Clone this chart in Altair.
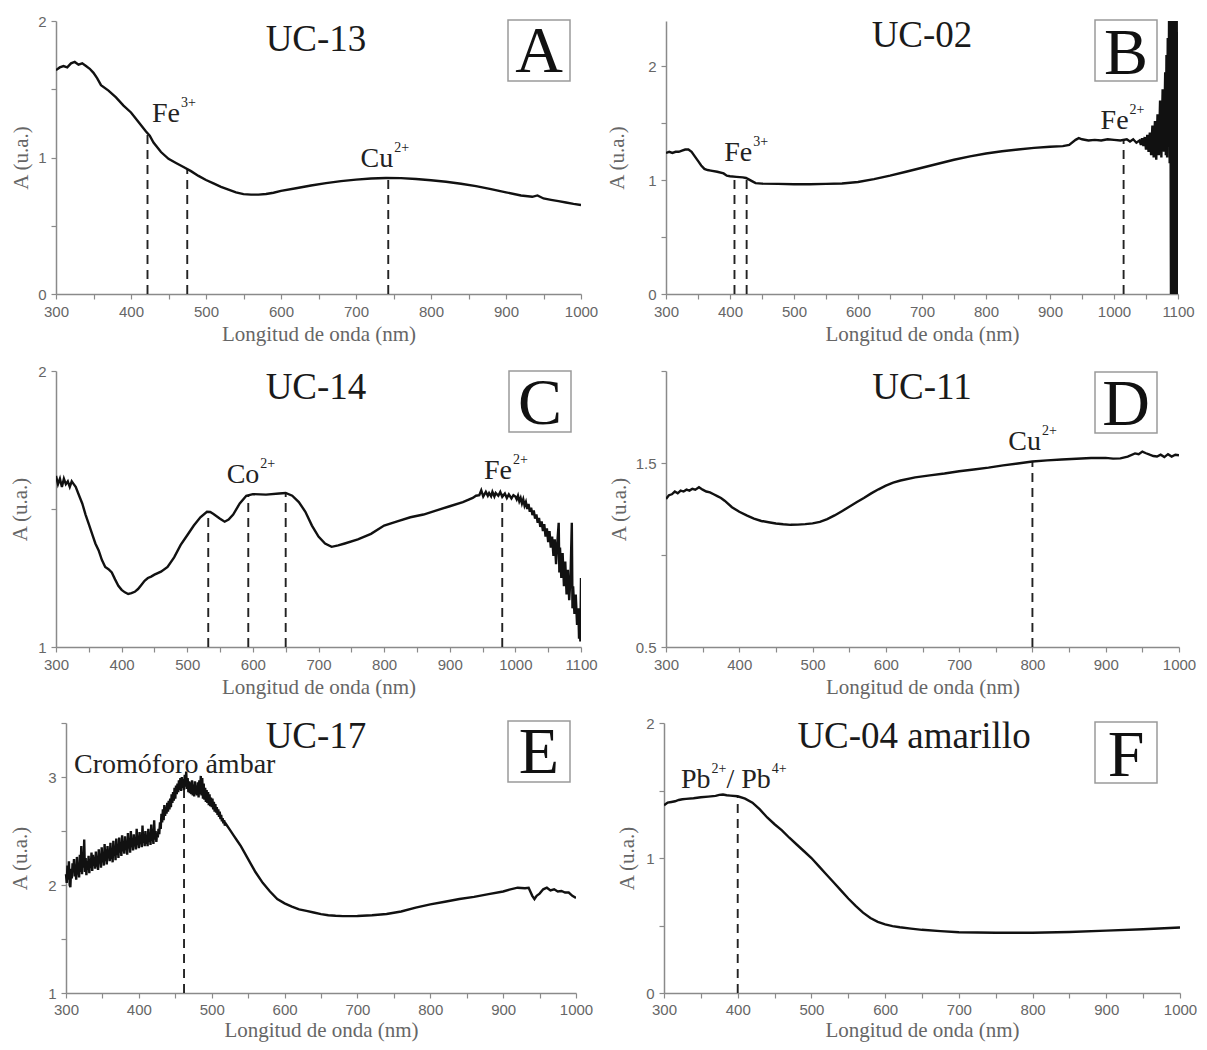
import altair as alt
import pandas as pd

SERIF = "Liberation Serif"
SANS = "Liberation Sans"

# ---------------- data ----------------
# Panel A - UC-13
a_wl = [300, 305, 310, 315, 320, 325, 330, 335, 340, 345, 350, 355, 360, 370, 380, 390, 400, 410, 420, 425,
        430, 440, 450, 460, 470, 480, 490, 500, 510, 520, 530, 540, 550, 560, 570, 580, 590, 600, 620, 640,
        660, 680, 700, 720, 740, 760, 780, 800, 820, 840, 860, 880, 900, 920, 935, 942, 950, 960, 970, 980,
        990, 1000]
a_abs = [1.64, 1.66, 1.67, 1.66, 1.69, 1.70, 1.68, 1.69, 1.67, 1.65, 1.62, 1.58, 1.53, 1.49, 1.44, 1.38, 1.33,
         1.26, 1.19, 1.16, 1.11, 1.04, 0.99, 0.96, 0.93, 0.90, 0.865, 0.835, 0.81, 0.785, 0.765, 0.745, 0.732,
         0.728, 0.728, 0.733, 0.742, 0.755, 0.775, 0.795, 0.812, 0.827, 0.838, 0.846, 0.85, 0.849, 0.843,
         0.833, 0.822, 0.808, 0.79, 0.768, 0.745, 0.722, 0.712, 0.722, 0.70, 0.69, 0.68, 0.67, 0.66, 0.652]
a_rule_wl = [422, 475, 743]
a_rule_top = [1.18, 0.915, 0.85]

# Panel B - UC-02
b_wl = [300, 305, 310, 315, 320, 325, 330, 335, 340, 345, 350, 355, 360, 365, 370, 380, 390, 395, 400, 410,
        420, 425, 430, 435, 440, 450, 475, 500, 525, 550, 575, 600, 625, 650, 675, 700, 725, 750, 775, 800,
        825, 850, 875, 900, 920, 930, 940, 945, 950, 960, 970, 980, 990, 1000, 1010, 1020, 1025, 1030, 1035,
        1040, 1042, 1044, 1046, 1048, 1050, 1052, 1054, 1056, 1058, 1060, 1062, 1064, 1066, 1068, 1070, 1072,
        1074, 1076, 1078, 1080, 1081, 1082, 1083, 1084, 1085, 1086, 1087, 1088, 1089, 1090, 1091, 1092, 1093,
        1094, 1095, 1096, 1097, 1098, 1099, 1100]
b_abs = [1.24, 1.25, 1.24, 1.25, 1.25, 1.26, 1.27, 1.27, 1.25, 1.21, 1.17, 1.13, 1.10, 1.09, 1.085, 1.075,
         1.06, 1.04, 1.035, 1.03, 1.025, 1.02, 1.005, 0.99, 0.975, 0.97, 0.968, 0.965, 0.965, 0.968, 0.972,
         0.985, 1.01, 1.04, 1.075, 1.11, 1.145, 1.18, 1.21, 1.235, 1.255, 1.27, 1.285, 1.295, 1.30, 1.31,
         1.355, 1.37, 1.36, 1.35, 1.355, 1.35, 1.36, 1.355, 1.35, 1.36, 1.34, 1.36, 1.33,
         1.35, 1.31, 1.37, 1.30, 1.38, 1.27, 1.40, 1.25, 1.42, 1.22, 1.48, 1.20, 1.52, 1.18, 1.58, 1.22, 1.70,
         1.20, 1.80, 1.25, 1.95, 1.22, 2.10, 1.20, 2.25, 1.30, 2.40, 1.15, 2.40, 0.0, 2.40, 0.0, 2.40, 0.0,
         2.40, 0.0, 2.40, 0.0, 2.40, 0.0, 2.30]
b_rule_wl = [407, 426, 1015]
b_rule_top = [1.03, 1.02, 1.35]

# Panel C - UC-14
c_wl = [300, 303, 306, 309, 312, 315, 318, 321, 324, 327, 330, 335, 340, 345, 350, 355, 360, 365, 370, 375,
        380, 385, 390, 395, 400, 405, 410, 415, 420, 425, 430, 435, 440, 445, 450, 460, 470, 480, 490, 500,
        510, 520, 530, 535, 540, 550, 557, 563, 570, 580, 590, 600, 620, 640, 650, 660, 670, 680, 690, 700,
        710, 720, 730, 740, 760, 780, 800, 820, 840, 860, 880, 900, 920, 935, 940, 945, 948, 951, 955, 958,
        960, 963, 965, 968, 970, 974, 977, 980, 984, 987, 990, 994, 997,
        1000, 1002, 1004, 1006, 1008, 1010, 1012, 1014, 1016, 1018, 1020, 1022, 1024, 1026, 1028, 1030, 1032,
        1034, 1036, 1038, 1040, 1042, 1044, 1046, 1048, 1050, 1052, 1054, 1056, 1058, 1060, 1062, 1064, 1066,
        1067, 1068, 1070, 1072, 1074, 1076, 1078, 1080, 1082, 1084, 1086, 1087, 1088, 1090, 1092, 1094, 1096,
        1097, 1098, 1099, 1100]
c_abs = [1.62, 1.59, 1.61, 1.58, 1.61, 1.59, 1.60, 1.58, 1.60, 1.59, 1.58, 1.55, 1.52, 1.48, 1.445, 1.41,
         1.375, 1.35, 1.315, 1.29, 1.282, 1.27, 1.245, 1.222, 1.207, 1.198, 1.192, 1.195, 1.20, 1.21, 1.225,
         1.24, 1.25, 1.255, 1.262, 1.273, 1.29, 1.325, 1.37, 1.405, 1.44, 1.47, 1.49, 1.489, 1.482, 1.465,
         1.454, 1.462, 1.48, 1.52, 1.548, 1.554, 1.552, 1.556, 1.558, 1.548, 1.525, 1.49, 1.44, 1.40, 1.375,
         1.363, 1.368, 1.375, 1.39, 1.41, 1.44, 1.455, 1.47, 1.48, 1.495, 1.51, 1.525, 1.54, 1.548, 1.55,
         1.568, 1.545, 1.562, 1.548, 1.558, 1.546, 1.562, 1.545, 1.558, 1.548, 1.562, 1.544, 1.556, 1.54,
         1.553, 1.538, 1.55,
         1.545, 1.535, 1.548, 1.528, 1.54, 1.52, 1.535, 1.512, 1.525, 1.50, 1.518, 1.49, 1.505, 1.478, 1.495,
         1.465, 1.48, 1.45, 1.468, 1.435, 1.455, 1.42, 1.445, 1.40, 1.43, 1.38, 1.42, 1.36, 1.40, 1.33, 1.39,
         1.30, 1.38, 1.45, 1.27, 1.36, 1.25, 1.34, 1.22, 1.31, 1.19, 1.28, 1.17, 1.25, 1.45, 1.14, 1.22, 1.12,
         1.19, 1.08, 1.14, 1.03, 1.10, 1.02, 1.25]
c_rule_wl = [532, 593, 650, 980]
c_rule_top = [1.49, 1.55, 1.558, 1.555]

# Panel D - UC-11
d_wl = [300, 304, 308, 312, 316, 320, 324, 328, 332, 336, 340, 345, 350, 355, 360, 365, 370, 375, 380, 390,
        400, 410, 420, 430, 440, 450, 460, 470, 480, 490, 500, 510, 520, 530, 540, 550, 560, 570, 580, 590,
        600, 610, 620, 640, 660, 680, 700, 720, 740, 760, 780, 800, 820, 840, 860, 880, 900, 910, 920, 930,
        940, 945, 950, 955, 960, 965, 970, 975, 980, 985, 990, 995, 1000]
d_abs = [1.305, 1.325, 1.33, 1.345, 1.335, 1.35, 1.345, 1.355, 1.35, 1.36, 1.355, 1.368, 1.355, 1.345, 1.34,
         1.33, 1.32, 1.31, 1.295, 1.26, 1.235, 1.215, 1.198, 1.185, 1.178, 1.171, 1.167, 1.164, 1.165, 1.168,
         1.172, 1.18, 1.195, 1.215, 1.238, 1.262, 1.287, 1.31, 1.335, 1.357, 1.377, 1.393, 1.405, 1.422,
         1.433, 1.443, 1.455, 1.465, 1.475, 1.487, 1.497, 1.508, 1.514, 1.519, 1.523, 1.527, 1.528, 1.524,
         1.525, 1.535, 1.552, 1.548, 1.562, 1.553, 1.545, 1.538, 1.535, 1.545, 1.532, 1.548, 1.535, 1.545,
         1.542]
d_rule_wl = [800]
d_rule_top = [1.508]

# Panel E - UC-17 (1 nm steps through the noisy region 300-520 nm)
e_wl = list(range(300, 521)) + [525, 530, 535, 540, 545, 550, 555, 560, 570, 580, 590, 600, 610, 620, 630,
                                640, 650, 660, 670, 680, 690, 700, 720, 740, 760, 780, 800, 820, 840, 860,
                                880, 900, 910, 920, 930, 935, 940, 943, 946, 950, 955, 960, 965, 970, 975,
                                980, 985, 990, 995, 1000]
e_abs = [2.10, 2.02, 2.18, 2.05, 2.22, 2.00, 1.98, 2.15, 2.06, 2.20,
         2.12, 2.24, 2.08, 2.19, 2.05, 2.26, 2.10, 2.14, 2.07, 2.28,
         2.12, 2.36, 2.10, 2.30, 2.16, 2.42, 2.12, 2.25, 2.09, 2.22,
         2.14, 2.27, 2.11, 2.24, 2.16, 2.30, 2.13, 2.28, 2.18, 2.26,
         2.15, 2.31, 2.17, 2.27, 2.14, 2.33, 2.20, 2.29, 2.16, 2.35,
         2.21, 2.30, 2.18, 2.38, 2.22, 2.33, 2.19, 2.36, 2.25, 2.31,
         2.22, 2.39, 2.24, 2.34, 2.21, 2.41, 2.27, 2.35, 2.23, 2.43,
         2.28, 2.37, 2.25, 2.44, 2.30, 2.38, 2.27, 2.46, 2.31, 2.40,
         2.29, 2.45, 2.33, 2.39, 2.28, 2.48, 2.34, 2.42, 2.30, 2.50,
         2.35, 2.43, 2.32, 2.47, 2.36, 2.41, 2.33, 2.52, 2.37, 2.44,
         2.34, 2.49, 2.38, 2.43, 2.35, 2.55, 2.39, 2.46, 2.36, 2.50,
         2.38, 2.45, 2.36, 2.52, 2.40, 2.47, 2.37, 2.56, 2.41, 2.46,
         2.38, 2.60, 2.42, 2.50, 2.40, 2.48, 2.44, 2.52, 2.47, 2.58,
         2.52, 2.66, 2.58, 2.70, 2.60, 2.74, 2.64, 2.72, 2.66, 2.76,
         2.68, 2.78, 2.70, 2.80, 2.72, 2.84, 2.76, 2.86, 2.78, 2.90,
         2.80, 2.92, 2.84, 2.94, 2.86, 2.97, 2.88, 2.99, 2.87, 3.00,
         2.90, 2.98, 2.88, 3.02, 2.91, 3.05, 2.89, 2.99, 2.86, 2.96,
         2.85, 2.95, 2.84, 2.97, 2.83, 2.93, 2.82, 2.96, 2.84, 2.92,
         2.83, 2.95, 2.81, 2.97, 2.84, 3.01, 2.83, 2.99, 2.80, 2.94,
         2.79, 2.90, 2.77, 2.88, 2.76, 2.86, 2.74, 2.84, 2.73, 2.81,
         2.72, 2.80, 2.70, 2.77, 2.68, 2.75, 2.67, 2.72, 2.65, 2.70,
         2.63, 2.68, 2.61, 2.65, 2.59, 2.62, 2.57, 2.60, 2.55, 2.57,
         2.56,
         2.51, 2.46, 2.41, 2.36, 2.30, 2.24, 2.18, 2.12, 2.02, 1.94, 1.87, 1.83, 1.80, 1.775, 1.76, 1.745,
         1.73, 1.72, 1.715, 1.712, 1.712, 1.713, 1.72, 1.732, 1.755, 1.79, 1.82, 1.845, 1.87, 1.89, 1.915,
         1.94, 1.96, 1.975, 1.97, 1.975, 1.90, 1.87, 1.90, 1.92, 1.96, 1.975, 1.95, 1.96, 1.94, 1.945, 1.93,
         1.93, 1.90, 1.88]
e_rule_wl = [462]
e_rule_top = [2.88]

# Panel F - UC-04 amarillo
f_wl = [300, 305, 310, 315, 320, 325, 330, 340, 350, 360, 370, 375, 380, 385, 390, 400, 410, 420, 430, 440,
        450, 460, 470, 480, 490, 500, 510, 520, 530, 540, 550, 560, 570, 580, 590, 600, 610, 620, 635, 650,
        675, 700, 750, 800, 850, 900, 950, 1000]
f_abs = [1.39, 1.41, 1.415, 1.42, 1.43, 1.435, 1.438, 1.443, 1.45, 1.455, 1.46, 1.468, 1.47, 1.465, 1.462,
         1.457, 1.44, 1.41, 1.36, 1.30, 1.25, 1.205, 1.15, 1.10, 1.05, 1.0, 0.94, 0.88, 0.82, 0.76, 0.70,
         0.645, 0.595, 0.555, 0.527, 0.508, 0.495, 0.487, 0.477, 0.468, 0.458, 0.45, 0.446, 0.446, 0.452,
         0.462, 0.472, 0.485]
f_rule_wl = [400]
f_rule_top = [1.457]

X_TITLE = "Longitud de onda (nm)"
Y_TITLE = "A (u.a.)"

# Times-like advance widths (em) to place superscripts
CW = {"F": .556, "e": .444, "C": .667, "u": .5, "o": .5, "P": .556, "b": .5, "/": .278, " ": .25,
      "2": .5, "3": .5, "4": .5, "+": .564}


def tw(s, size):
    return sum(CW.get(ch, .5) for ch in s) * size


def panel(wl, ab, xmax, ydom, yticks, ylabels, W, H, ytoff, rule_wl, rule_top, notes,
          title, title_xy, letter, box_xy, letter_mid, shift=0, xlabpad=5, xtitlepad=4):
    xs = alt.Scale(domain=[300, xmax], nice=False, zero=False, range=[shift, W])
    ys = alt.Scale(domain=ydom, nice=False, zero=False)
    lab = " || ".join(f"datum.value == {v}" for v in ylabels)
    xaxis = alt.Axis(values=list(range(300, xmax + 1, 50)),
                     labelExpr="datum.value % 100 == 0 ? datum.label : ''",
                     format="d", title=X_TITLE, titlePadding=xtitlepad, labelPadding=xlabpad)
    yargs = dict(values=yticks, labelExpr=f"({lab}) ? datum.label : ''", format="~g",
                 title=Y_TITLE, titleX=-ytoff, titleY=H / 2)
    if shift:
        yargs["offset"] = -shift
    yaxis = alt.Axis(**yargs)
    X = alt.X("wl:Q", scale=xs, axis=xaxis, title=X_TITLE)
    Y = alt.Y("a:Q", scale=ys, axis=yaxis, title=Y_TITLE)

    layers = []
    rdf = pd.DataFrame({"wl": rule_wl, "a": [ydom[0]] * len(rule_wl), "a2": rule_top})
    layers.append(alt.Chart(rdf).mark_rule(color="#222222", strokeWidth=1.9, strokeDash=[9, 6])
                  .encode(x=X, y=Y, y2="a2:Q"))
    df = pd.DataFrame({"wl": wl, "a": ab})
    layers.append(alt.Chart(df).mark_line(color="#111111", strokeWidth=2.4, clip=True)
                  .encode(x=X, y=Y))
    for (nx, ny, parts) in notes:
        off = 0.0
        for txt, sup in parts:
            size = 14 if sup else 28
            ndf = pd.DataFrame({"wl": [nx], "a": [ny], "t": [txt]})
            layers.append(alt.Chart(ndf).mark_text(font=SERIF, fontSize=size, align="left",
                                                   baseline="alphabetic", color="#222222",
                                                   dx=off + (1 if sup else 0), dy=-15 if sup else 0)
                          .encode(x=X, y=Y, text="t:N"))
            off += tw(txt, size) + (1 if sup else 0)
    one = pd.DataFrame({"k": [0]})
    layers.append(alt.Chart(one).mark_text(font=SERIF, fontSize=37, align="center",
                                           baseline="middle", color="#1a1a1a")
                  .encode(x=alt.value(title_xy[0] + shift), y=alt.value(title_xy[1]),
                          text=alt.value(title)))
    bx, by = box_xy
    bx += shift
    layers.append(alt.Chart(one).mark_rect(filled=False, color="#9a9a9a", strokeWidth=1.5)
                  .encode(x=alt.value(bx), x2=alt.value(bx + 62), y=alt.value(by), y2=alt.value(by + 61)))
    layers.append(alt.Chart(one).mark_text(font=SERIF, fontSize=66, align="center",
                                           baseline="middle", color="#111111")
                  .encode(x=alt.value(bx + 31), y=alt.value(letter_mid), text=alt.value(letter)))
    return alt.layer(*layers).properties(width=W, height=H)


pA = panel(a_wl, a_abs, 1000, [0, 2], [0, 0.5, 1, 1.5, 2], [0, 1, 2], 525, 273, 25,
           a_rule_wl, a_rule_top,
           [(428, 1.257, [("Fe", False), ("3+", True)]), (706, 0.93, [("Cu", False), ("2+", True)])],
           "UC-13", (260, 19), "A", (452, -1), 31)
pB = panel(b_wl, b_abs, 1100, [0, 2.4], [0, 0.5, 1, 1.5, 2], [0, 1, 2], 512, 273, 39,
           b_rule_wl, b_rule_top,
           [(391, 1.165, [("Fe", False), ("3+", True)]), (979, 1.45, [("Fe", False), ("2+", True)])],
           "UC-02", (256, 15), "B", (429, -1), 33)
pC = panel(c_wl, c_abs, 1100, [1, 2], [1, 1.5, 2], [1, 2], 525, 276, 26,
           c_rule_wl, c_rule_top,
           [(560, 1.594, [("Co", False), ("2+", True)]), (952, 1.607, [("Fe", False), ("2+", True)])],
           "UC-14", (260, 17), "C", (453, 0), 33)
pD = panel(d_wl, d_abs, 1000, [0.5, 2], [0.5, 1, 1.5, 2], [0.5, 1.5], 513, 276, 37,
           d_rule_wl, d_rule_top,
           [(767, 1.569, [("Cu", False), ("2+", True)])],
           "UC-11", (256, 17), "D", (429, 1), 34)
pE = panel(e_wl, e_abs, 1000, [1, 3.5], [1, 1.5, 2, 2.5, 3, 3.5], [1, 2, 3], 520, 270, 36,
           e_rule_wl, e_rule_top,
           [(311, 3.036, [("Cromóforo ámbar", False)])],
           "UC-17", (250, 14), "E", (442, -2), 30, shift=10, xlabpad=4, xtitlepad=2)
pF = panel(f_wl, f_abs, 1000, [0, 2], [0, 0.5, 1, 1.5, 2], [0, 1, 2], 516, 270, 27,
           f_rule_wl, f_rule_top,
           [(323, 1.522, [("Pb", False), ("2+", True), ("/ Pb", False), ("4+", True)])],
           "UC-04 amarillo", (250, 14), "F", (431, -1), 33, xlabpad=4, xtitlepad=2)

row1 = alt.hconcat(pA, pB, spacing=8)
row2 = alt.hconcat(pC, pD, spacing=10)
row3 = alt.hconcat(pE, pF, spacing=23)

top2 = alt.vconcat(row1, row2, spacing=20)
chart = alt.vconcat(top2, row3, spacing=19).properties(
    padding={"left": 1, "top": 6, "right": 0, "bottom": 2},
    background="white",
).configure_view(stroke=None).configure_axis(
    grid=False,
    domainColor="#8a8a8a", domainWidth=1.5,
    tickColor="#8a8a8a", tickWidth=1.2, tickSize=5,
    labelFont=SANS, labelFontSize=15, labelColor="#666666", labelPadding=5,
    labelFlush=False, labelOverlap=False,
    titleFont=SERIF, titleFontSize=21, titleColor="#666666", titleFontWeight="normal",
)

chart.save("out.html", embed_options={"renderer": "svg", "actions": False})
